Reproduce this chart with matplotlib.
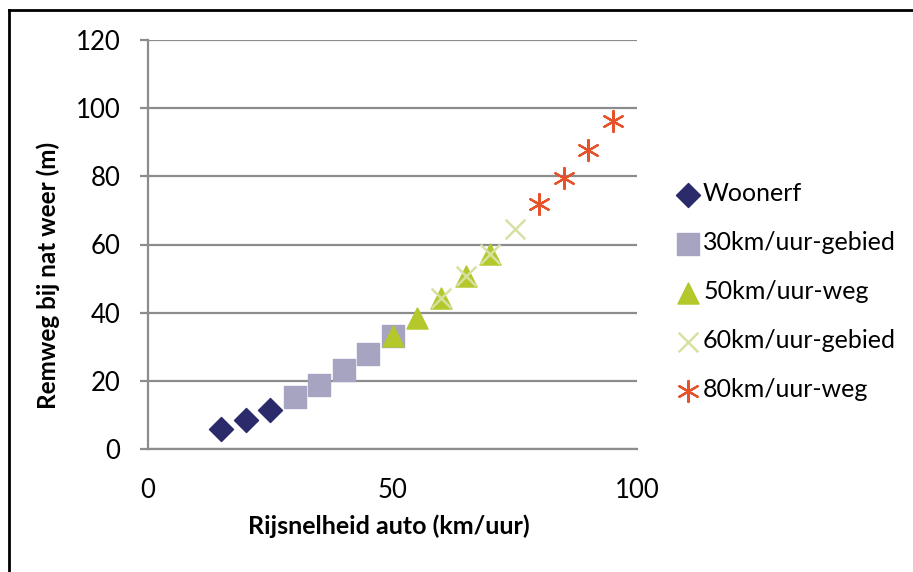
import matplotlib
matplotlib.use("Agg")
import matplotlib.pyplot as plt
from matplotlib.lines import Line2D

plt.rcParams['font.family'] = ['Lato', 'DejaVu Sans']

# speed (km/uur) and braking distance on wet road (m), per category
woonerf_x = [15, 20, 25]
woonerf_y = [5.9, 8.6, 11.5]

z30_x = [30, 35, 40, 45, 50]
z30_y = [15.3, 18.9, 23.2, 27.9, 33.2]

w50_x = [50, 55, 60, 65, 70]
w50_y = [33.2, 38.4, 44.3, 50.8, 57.2]

z60_x = [60, 65, 70, 75]
z60_y = [44.3, 50.8, 57.2, 64.5]

w80_x = [80, 85, 90, 95]
w80_y = [71.8, 79.6, 87.8, 96.2]

labels = ['Woonerf', '30km/uur-gebied', '50km/uur-weg',
          '60km/uur-gebied', '80km/uur-weg']

fig = plt.figure(figsize=(9.13, 5.72), dpi=100)
ax = fig.add_axes([148 / 913, 1 - 449 / 572, 489 / 913, 409 / 572])

grey = '#8c8c8c'
ax.scatter(woonerf_x, woonerf_y, marker='D', s=150, color='#2b2b6b',
           label=labels[0], zorder=3)
ax.scatter(z30_x, z30_y, marker='s', s=230, color='#a7a4c2',
           label=labels[1], zorder=3)
ax.scatter(w50_x, w50_y, marker='^', s=230, color='#b4c72b',
           label=labels[2], zorder=4)
ax.scatter(z60_x, z60_y, marker='x', s=200, color='#d6e1a3', linewidths=1.8,
           label=labels[3], zorder=5)
ax.scatter(w80_x, w80_y, marker=(6, 2, 0), s=230, color='#e6532b',
           linewidths=1.6, label=labels[4], zorder=5)

ax.set_xlim(0, 100)
ax.set_ylim(0, 120)
ax.set_xticks([0, 50, 100])
ax.set_yticks(range(0, 121, 20))
ax.yaxis.grid(True, color=grey, linewidth=1.6)
ax.set_axisbelow(True)

for side in ['top', 'right']:
    ax.spines[side].set_visible(False)
for side in ['left', 'bottom']:
    ax.spines[side].set_color(grey)
    ax.spines[side].set_linewidth(1.6)

ax.tick_params(axis='y', length=6, width=1.6, color=grey, pad=14, labelsize=18.5)
ax.tick_params(axis='x', length=0, pad=21, labelsize=18.5)

ax.set_xlabel('Rijsnelheid auto (km/uur)', fontsize=18, fontweight='bold')
ax.set_ylabel('Remweg bij nat weer (m)', fontsize=17.5, fontweight='bold')
ax.xaxis.set_label_coords(0.493, -0.16)
ax.yaxis.set_label_coords(-0.18, 0.425)

ax.legend(loc='center left', bbox_to_anchor=(0.729, 0.49),
          bbox_transform=fig.transFigure, frameon=False, fontsize=18,
          handletextpad=0.1, labelspacing=1.04, handlelength=1.0,
          borderaxespad=0)

# frame lines of the original picture (top and left only)
fig.add_artist(Line2D([9 / 913, 1], [1 - 10 / 572, 1 - 10 / 572],
                      color='black', linewidth=2, transform=fig.transFigure))
fig.add_artist(Line2D([9 / 913, 9 / 913], [0, 1 - 10 / 572],
                      color='black', linewidth=2, transform=fig.transFigure))

fig.savefig('out.png', dpi=100)
